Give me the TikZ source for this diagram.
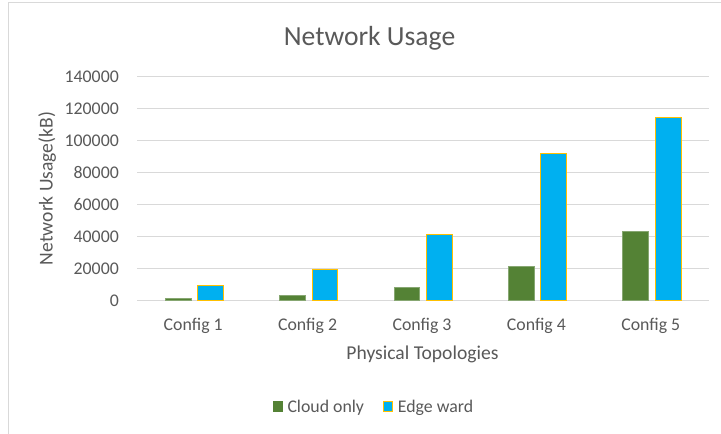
\documentclass[tikz,border=0pt]{standalone}
\usepackage{fontspec}
\setmainfont{Carlito}
\definecolor{txtgray}{HTML}{595959}
\definecolor{gridgray}{HTML}{D9D9D9}
\definecolor{cloudgreen}{HTML}{548235}
\definecolor{edgeblue}{HTML}{00B0F0}
\definecolor{edgegold}{HTML}{FFC000}
\tikzset{
  lbl/.style={text=txtgray, inner sep=0pt, font=\fontsize{17.8}{20}\selectfont},
  axtitle/.style={text=txtgray, inner sep=0pt, font=\fontsize{19.6}{24}\selectfont},
  gridln/.style={draw=gridgray, line width=1.2pt},
  cloudbar/.style={fill=cloudgreen, draw=cloudgreen!70!white, line width=0.6pt},
  edgebar/.style={fill=edgeblue, draw=edgegold, line width=1pt},
}
\begin{document}
\begin{tikzpicture}[x=1pt, y=-1pt]
  % canvas and chart frame
  \useasboundingbox (0,0) rectangle (721,434);
  \fill[white] (0,0) rectangle (721,434);
  \draw[gridgray, line width=1pt] (8.5,440) -- (8.5,2.8) -- (730,2.8);

  % title
  \node[text=txtgray, inner sep=0pt, font=\fontsize{27.6}{32}\selectfont, anchor=base]
    (title) at (369.5,45) {Network Usage};

  % horizontal gridlines and value labels (values in thousands of kB)
  \foreach \k/\txt [count=\i] in {0/0,20/20000,40/40000,60/60000,80/80000,100/100000,120/120000,140/140000} {
    \pgfmathsetmacro{\yy}{300.7-\k*1.6}
    \draw[gridln] (137,\yy) -- (709,\yy);
    \node[lbl, anchor=east] (tick\i) at (119,\yy) {\txt};
  }

  % bars: category, cloud-only value, edge-ward value (thousands of kB)
  \foreach \c/\g/\b in {1/1.25/9.4, 2/3.4/19.2, 3/8.1/41.3, 4/21.5/91.7, 5/43.1/114.7} {
    \pgfmathsetmacro{\cx}{137+114.4*(\c-0.5)}
    \pgfmathsetmacro{\gy}{300.7-\g*1.6}
    \pgfmathsetmacro{\by}{300.7-\b*1.6}
    \draw[cloudbar] (\cx-29.2,300.7) rectangle (\cx-3.4,\gy);
    \draw[edgebar] (\cx+3.4,300.2) rectangle (\cx+29.2,\by);
    \node[lbl, anchor=base] (cat\c) at (\cx-1,330.5) {Config \c};
  }

  % axis titles
  \node[axtitle, anchor=base] (xtitle) at (422.5,359.3) {Physical Topologies};
  \node[axtitle, anchor=base, rotate=90] (ytitle) at (52.5,188.5) {Network Usage(kB)};

  % legend
  \fill[cloudgreen] (272.7,401.4) rectangle (283.3,412);
  \node[lbl, anchor=base west] (legcloud) at (287.3,412.5) {Cloud only};
  \draw[edgebar] (383.2,401.9) rectangle (392.8,411.5);
  \node[lbl, anchor=base west] (legedge) at (397.7,412.5) {Edge ward};
\end{tikzpicture}
\end{document}
